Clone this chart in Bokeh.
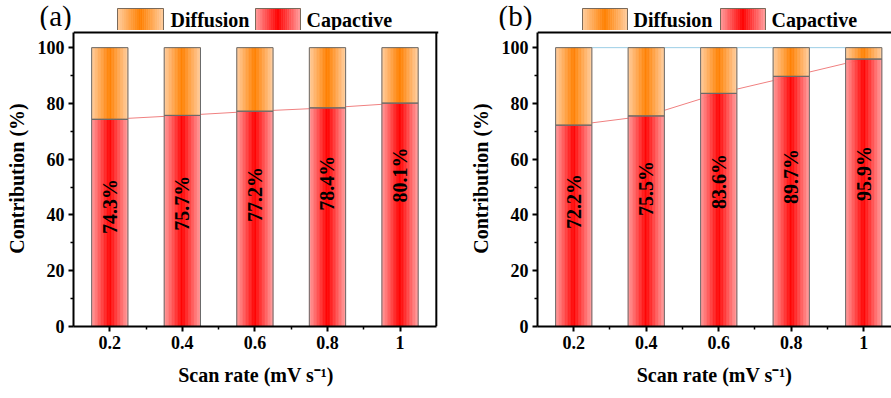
import numpy as np
from bokeh.plotting import figure
from bokeh.models import Range1d, LinearAxis, FixedTicker, CustomJSTickFormatter
from bokeh.layouts import row, column
from bokeh.core.properties import value
from bokeh.embed import file_html
from bokeh.resources import INLINE

# ---------------- data ----------------
scan_rate = [0.2, 0.4, 0.6, 0.8, 1.0]
x_tick_labels = ["0.2", "0.4", "0.6", "0.8", "1"]
x_minor = [0.3, 0.5, 0.7, 0.9]
capacitive_a = [74.3, 75.7, 77.2, 78.4, 80.1]
capacitive_b = [72.2, 75.5, 83.6, 89.7, 95.9]
label_y_a = [43.0, 44.2, 47.3, 51.4, 54.3]
label_y_b = [44.8, 49.5, 52.0, 53.8, 54.9]
y_ticks = [0, 20, 40, 60, 80, 100]
y_minor = [10, 30, 50, 70, 90]
series_names = ["Diffusion", "Capactive"]
panel_tags = ["(a)", "(b)"]

FONT = "Liberation Serif"
BAR_W = 0.1
NSTRIP = 24
X_START = 0.1
Y_END = 105.4      # top border of the box
Y_PAD = 0.75       # keeps the border line inside the drawing area
X_PAD = 0.006
RED_C, RED_E = (255, 0, 0), (255, 158, 158)
ORA_C, ORA_E = (255, 128, 0), (255, 206, 160)
OUTLINE = "#6a6a6a"


def grad(center, edge, n):
    cols = []
    for i in range(n):
        t = abs((i + 0.5) / n * 2 - 1)
        c = tuple(int(round(center[k] + (edge[k] - center[k]) * t)) for k in range(3))
        cols.append("#%02x%02x%02x" % c)
    return cols


RED_G = grad(RED_C, RED_E, NSTRIP)
ORA_G = grad(ORA_C, ORA_E, NSTRIP)


def style_axis(ax, label=None):
    ax.axis_line_width = 2
    ax.axis_line_color = "black"
    ax.major_tick_line_width = 2
    ax.major_tick_line_color = "black"
    ax.minor_tick_line_width = 1.5
    ax.minor_tick_line_color = "black"
    ax.major_tick_in = 0
    ax.minor_tick_in = 0
    ax.major_tick_out = 5
    ax.minor_tick_out = 3
    ax.major_label_text_font = FONT
    ax.major_label_text_font_style = "bold"
    ax.major_label_text_font_size = "18px"
    ax.major_label_text_color = "black"
    ax.major_label_standoff = 4
    if label:
        ax.axis_label = label
        ax.axis_label_text_font = FONT
        ax.axis_label_text_font_style = "bold"
        ax.axis_label_text_font_size = "20px"
        ax.axis_label_text_color = "black"


def main_fig(cap, label_y, width, bl, br, x_end, right_edge, blue_line):
    diff = [round(100 - c, 1) for c in cap]
    total = [c + d for c, d in zip(cap, diff)]
    x_hi = x_end + X_PAD if right_edge else x_end
    p = figure(width=width, height=368, x_range=Range1d(X_START, x_hi),
               y_range=Range1d(0, Y_END + Y_PAD),
               min_border_left=bl, min_border_right=br, min_border_top=0, min_border_bottom=72,
               toolbar_location=None, output_backend="svg", title=None,
               x_axis_location=None, y_axis_location=None, frame_align=False)
    p.grid.visible = False
    p.outline_line_color = None

    # connecting lines (behind bars)
    p.line(scan_rate, cap, line_color="#F08080", line_width=1)
    if blue_line:
        p.line(scan_rate, total, line_color="#9CCFE6", line_width=1)

    # gradient bars as strips
    xs, bots, tops, cols = [], [], [], []
    for xi, c, d in zip(scan_rate, cap, diff):
        for k in range(NSTRIP):
            off = ((k + 0.5) / NSTRIP - 0.5) * BAR_W
            xs.append(xi + off); bots.append(0); tops.append(c); cols.append(RED_G[k])
            xs.append(xi + off); bots.append(c); tops.append(c + d); cols.append(ORA_G[k])
    p.vbar(x=xs, width=BAR_W / NSTRIP, bottom=bots, top=tops, fill_color=cols,
           line_color=cols, line_width=0.6)
    p.vbar(x=scan_rate, width=BAR_W, bottom=0, top=cap, fill_color=None,
           line_color=OUTLINE, line_width=1)
    p.vbar(x=scan_rate, width=BAR_W, bottom=cap, top=total, fill_color=None,
           line_color=OUTLINE, line_width=1)

    p.text(x=scan_rate, y=label_y, text=["%.1f%%" % c for c in cap], angle=np.pi / 2,
           text_align="center", text_baseline="middle", text_font=value(FONT),
           text_font_style="bold", text_font_size="20px", text_color="black")

    # box border (top, and right for panel a)
    p.line([X_START, x_hi], [Y_END, Y_END], line_color="black", line_width=2)
    if right_edge:
        p.line([x_end, x_end], [0, Y_END], line_color="black", line_width=2)

    fmt = CustomJSTickFormatter(args=dict(tvals=scan_rate, tlabs=x_tick_labels), code="""
        for (let i = 0; i < tvals.length; i++) { if (Math.abs(tvals[i] - tick) < 1e-6) return tlabs[i]; }
        return '';
    """)
    xa = LinearAxis(ticker=FixedTicker(ticks=scan_rate, minor_ticks=x_minor), formatter=fmt,
                    bounds=(X_START, x_end))
    style_axis(xa, "Scan rate (mV s\u207b\u00b9)")
    xa.axis_label_standoff = 12
    p.add_layout(xa, "below")

    ya = LinearAxis(ticker=FixedTicker(ticks=y_ticks, minor_ticks=y_minor), bounds=(0, Y_END))
    style_axis(ya, "Contribution (%)")
    ya.axis_label_standoff = 7
    p.add_layout(ya, "left")
    return p


def header(width, tag, tag_x, p1, t1, p2, t2):
    h = figure(width=width, height=30, x_range=Range1d(0, width), y_range=Range1d(30, 0),
               min_border=0, min_border_left=0, min_border_right=0, min_border_top=0,
               min_border_bottom=0, title=None, frame_align=False,
               toolbar_location=None, output_backend="svg",
               x_axis_location=None, y_axis_location=None)
    h.grid.visible = False
    h.outline_line_color = None
    h.text(x=[tag_x], y=[15], text=[tag], text_font=value(FONT), text_font_size="29px",
           text_baseline="middle", text_color="black")
    for (l, r), g, tx, name in [(p1, ORA_G, t1, series_names[0]), (p2, RED_G, t2, series_names[1])]:
        w = (r - l) / NSTRIP
        lefts = [l + k * w for k in range(NSTRIP)]
        h.quad(left=lefts, right=[x + w for x in lefts], top=8, bottom=30, fill_color=g,
               line_color=g, line_width=0.6)
        h.quad(left=[l], right=[r], top=8, bottom=30, fill_color=None,
               line_color="#7a6a5a", line_width=1)
        h.text(x=[tx], y=[19.5], text=[name], text_font=value(FONT), text_font_style="bold",
               text_font_size="20px", text_baseline="middle", text_color="black")
    return h


ha = header(445, panel_tags[0], 39, (117, 163), 170, (255, 300), 306)
hb = header(446, panel_tags[1], 53, (137, 182), 188, (275, 320), 326)
pa = main_fig(capacitive_a, label_y_a, 445, 73, 7, 1.1, True, False)
pb = main_fig(capacitive_b, label_y_b, 446, 92, 0, 1.0766, False, True)

layout = row(column(ha, pa), column(hb, pb))
open("out.html", "w").write(file_html(layout, INLINE))
